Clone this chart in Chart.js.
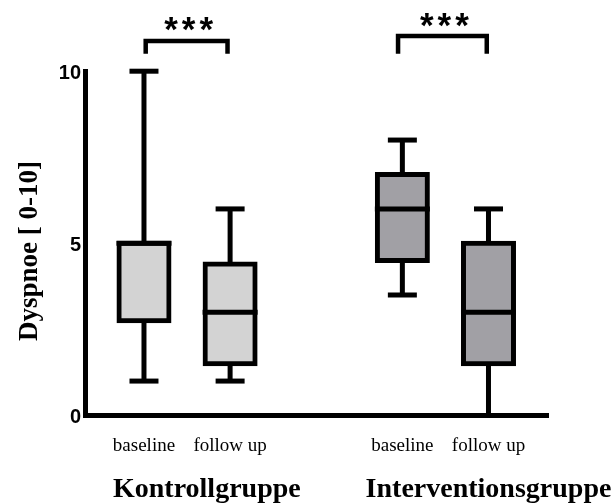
<!DOCTYPE html>
<html>
<head>
<meta charset="utf-8">
<script src="https://cdn.jsdelivr.net/npm/chart.js@4.4.1/dist/chart.umd.min.js"></script>
<style>
  html, body { margin: 0; padding: 0; background: #fff; }
  canvas { display: block; }
</style>
</head>
<body>
<canvas id="chart" width="614" height="504"></canvas>
<script>
// ── data ────────────────────────────────────────────────────────────────────
const categories = ["baseline", "follow up", "baseline", "follow up"];
const groups = ["Kontrollgruppe", "Interventionsgruppe"];
const xPos = [1, 2, 4, 5];

const whiskerMin = [1, 1, 3.5, 0];
const q1 = [2.75, 1.5, 4.5, 1.5];
const median = [5, 3, 6, 3];
const q3 = [5, 4.4, 7, 5];
const whiskerMax = [10, 6, 8, 6];

const yTicks = [0, 5, 10];

// significance brackets (x from/to, leg end and top in y units)
const sigLabels = ["***", "***"];
const sigFrom = [1.02, 3.95];
const sigTo = [1.97, 4.98];
const sigLeg = [10.51, 10.51];
const sigTop = [10.88, 11.02];

// ── styles ──────────────────────────────────────────────────────────────────
const BOX_FILLS = ["#d3d3d3", "#d3d3d3", "#a1a0a5", "#a1a0a5"];
const GROUP_LABEL_X = [1.73, 5.0];
const SERIF = "'Liberation Serif', 'Times New Roman', serif";
const SANS = "'Liberation Sans', Arial, sans-serif";

// ── text drawn on top (stars, axis title, group names) ──────────────────────
const annotate = {
    id: "annotate",
    afterDraw(chart) {
        const { ctx, scales: { x, y } } = chart;
        ctx.save();
        ctx.fillStyle = "#000";

        // stars above brackets
        ctx.font = "bold 35px " + SANS;
        ctx.letterSpacing = "4px";
        ctx.textAlign = "center";
        ctx.textBaseline = "alphabetic";
        sigLabels.forEach((s, i) => {
            const cx = x.getPixelForValue((sigFrom[i] + sigTo[i]) / 2);
            const top = y.getPixelForValue(sigTop[i]);
            ctx.fillText(s, cx + 4, top + 0.5);
        });
        ctx.letterSpacing = "0px";

        // group names
        ctx.font = "bold 28px " + SERIF;
        groups.forEach((g, i) => {
            ctx.fillText(g, x.getPixelForValue(GROUP_LABEL_X[i]), 497);
        });

        // y axis title
        ctx.font = "bold 27px " + SERIF;
        ctx.translate(37, 251);
        ctx.rotate(-Math.PI / 2);
        ctx.fillText("Dyspnoe [ 0-10]", 0, 0);
        ctx.restore();
    },
};

// ── datasets ────────────────────────────────────────────────────────────────
const medianSet = {
    type: "scatter",
    data: xPos.map((v, i) => ({ x: v, y: median[i] })),
    pointStyle: "line",
    pointRadius: 27.5,
    borderWidth: 5,
    borderColor: "#000",
    clip: false,
    order: 0,
};

const capSet = {
    type: "scatter",
    data: [
        ...xPos.map((v, i) => ({ x: v, y: whiskerMin[i] })),
        ...xPos.map((v, i) => ({ x: v, y: whiskerMax[i] })),
    ],
    pointStyle: "line",
    pointRadius: 14.5,
    borderWidth: 5,
    borderColor: "#000",
    clip: false,
    order: 1,
};

const boxSet = {
    type: "bar",
    data: xPos.map((v, i) => ({ x: v, y: [q1[i], q3[i]] })),
    backgroundColor: BOX_FILLS,
    borderColor: "#000",
    borderWidth: 5,
    borderSkipped: false,
    inflateAmount: 2.5,
    barThickness: 50,
    grouped: false,
    clip: false,
    order: 2,
};

const whiskerSet = {
    type: "bar",
    data: xPos.map((v, i) => ({ x: v, y: [whiskerMin[i], whiskerMax[i]] })),
    backgroundColor: "#000",
    borderWidth: 0,
    inflateAmount: 0,
    barThickness: 5,
    grouped: false,
    clip: false,
    order: 3,
};

const bracketSets = sigLabels.map((_, i) => ({
    type: "line",
    data: [
        { x: sigFrom[i], y: sigLeg[i] },
        { x: sigFrom[i], y: sigTop[i] },
        { x: sigTo[i], y: sigTop[i] },
        { x: sigTo[i], y: sigLeg[i] },
    ],
    borderColor: "#000",
    borderWidth: 4.5,
    borderJoinStyle: "miter",
    borderCapStyle: "butt",
    pointRadius: 0,
    tension: 0,
    fill: false,
    clip: false,
    order: 4,
}));

// ── chart ───────────────────────────────────────────────────────────────────
new Chart(document.getElementById("chart"), {
    type: "bar",
    data: { datasets: [medianSet, capSet, boxSet, whiskerSet, ...bracketSets] },
    options: {
        responsive: false,
        animation: false,
        events: [],
        layout: { padding: { top: 71.2, right: 66, left: 0, bottom: 0 } },
        plugins: { legend: { display: false }, tooltip: { enabled: false } },
        scales: {
            x: {
                type: "linear",
                min: 0.321,
                max: 5.691,
                offset: false,
                afterFit: s => { s.height = 88.5; },
                afterBuildTicks: s => { s.ticks = xPos.map(v => ({ value: v })); },
                grid: { display: false, drawTicks: false },
                border: { display: true, color: "#000", width: 5, z: 1 },
                ticks: {
                    callback: (v, i) => categories[i],
                    color: "#000",
                    font: { family: SERIF, size: 19 },
                    padding: 19,
                    maxRotation: 0,
                    autoSkip: false,
                },
            },
            y: {
                min: 0,
                max: 10,
                afterFit: s => { s.width = 85.5; },
                afterBuildTicks: s => { s.ticks = yTicks.map(v => ({ value: v })); },
                grid: { display: false, drawTicks: false },
                border: { display: true, color: "#000", width: 5 },
                ticks: {
                    color: "#000",
                    font: { family: SANS, size: 20, weight: "bold" },
                    padding: 4.5,
                    labelOffset: 2,
                },
            },
        },
    },
    plugins: [annotate],
});
</script>
</body>
</html>
